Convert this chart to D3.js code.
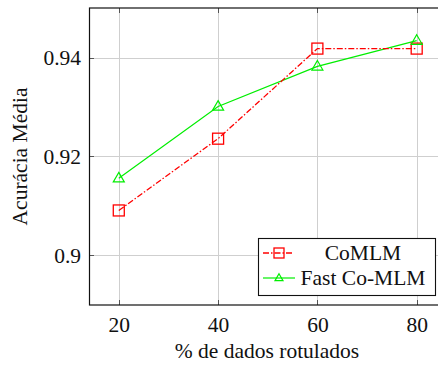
<!DOCTYPE html>
<html>
<head>
<meta charset="utf-8">
<script src="https://cdn.jsdelivr.net/npm/d3@7"></script>
<style>
  html, body { margin: 0; padding: 0; background: #fff; }
  svg { display: block; }
  svg text { font-family: "Liberation Serif", "Times New Roman", Tinos, "Nimbus Roman", "DejaVu Serif", serif !important; fill: #111; }
</style>
</head>
<body>
<div id="chart"></div>
<script>
// Percentage of labelled data on the x axis
const labelledPct = [20, 40, 60, 80];
// Mean accuracy per method
const coMLM = [0.9091, 0.9236, 0.9418, 0.9418];
const fastCoMLM = [0.9156, 0.9301, 0.9382, 0.9434];
const xTicks = [20, 40, 60, 80];
const yTicks = [0.9, 0.92, 0.94];
const seriesNames = ["CoMLM", "Fast Co-MLM"];

const W = 438, H = 367;
const svg = d3.select("#chart").append("svg").attr("width", W).attr("height", H);

const plotLeft = 89, plotTop = 8, plotBottom = 305;
const x = d3.scaleLinear().domain([14, 86]).range([plotLeft, plotLeft + (86 - 14) * (99.3 / 20)]);
const y = d3.scaleLinear().domain([0.89, 0.95]).range([plotBottom, plotTop]);
const plotRight = x(86);

const font = 21.5;

// grid
const grid = svg.append("g").attr("stroke", "#cfcfcf").attr("stroke-width", 1);
xTicks.forEach(t => grid.append("line").attr("x1", Math.round(x(t)) + 0.5).attr("x2", Math.round(x(t)) + 0.5).attr("y1", plotTop).attr("y2", plotBottom));
yTicks.forEach(t => grid.append("line").attr("y1", Math.round(y(t)) + 0.5).attr("y2", Math.round(y(t)) + 0.5).attr("x1", plotLeft).attr("x2", plotRight));

// inner tick marks
const ticks = svg.append("g").attr("stroke", "#555").attr("stroke-width", 1);
xTicks.forEach(t => {
  const px = Math.round(x(t)) + 0.5;
  ticks.append("line").attr("x1", px).attr("x2", px).attr("y1", plotBottom).attr("y2", plotBottom - 5);
  ticks.append("line").attr("x1", px).attr("x2", px).attr("y1", plotTop).attr("y2", plotTop + 5);
});
yTicks.forEach(t => {
  const py = Math.round(y(t)) + 0.5;
  ticks.append("line").attr("x1", plotLeft).attr("x2", plotLeft + 5).attr("y1", py).attr("y2", py);
});

// frame
svg.append("rect").attr("x", plotLeft + 0.5).attr("y", plotTop).attr("width", plotRight - plotLeft).attr("height", plotBottom - plotTop)
  .attr("fill", "none").attr("stroke", "#111").attr("stroke-width", 1.2);

// tick labels via d3 axes (lines hidden)
const xAxis = svg.append("g").attr("transform", `translate(0,${plotBottom})`)
  .call(d3.axisBottom(x).tickValues(xTicks).tickSize(0).tickPadding(20).tickFormat(d3.format("d")));
const yAxis = svg.append("g").attr("transform", `translate(${plotLeft},0)`)
  .call(d3.axisLeft(y).tickValues(yTicks).tickSize(0).tickPadding(8).tickFormat(d => String(+d.toFixed(2))));
[xAxis, yAxis].forEach(a => {
  a.select(".domain").remove();
  a.attr("font-family", null).attr("font-size", null);
  a.selectAll("text").attr("font-size", font).attr("fill", "#111");
});
xAxis.selectAll("text").attr("dy", "0.32em").attr("y", 20);
yAxis.selectAll("text").attr("dy", "0.34em");

// axis titles
svg.append("text").attr("x", 267).attr("y", 358).attr("text-anchor", "middle")
  .attr("font-size", font).text("% de dados rotulados");
svg.append("text").attr("transform", `translate(27,${(plotTop + plotBottom) / 2}) rotate(-90)`)
  .attr("text-anchor", "middle").attr("font-size", font).text("Acurácia Média");

// markers
function square(g, cx, cy, s, color) {
  g.append("rect").attr("x", cx - s / 2).attr("y", cy - s / 2).attr("width", s).attr("height", s)
    .attr("fill", "none").attr("stroke", color).attr("stroke-width", 1.3);
}
function triangle(g, cx, cy, s, color) {
  const h = s * 0.866;
  g.append("path").attr("d", `M${cx},${cy - h * 0.62}L${cx + s / 2},${cy + h * 0.38}L${cx - s / 2},${cy + h * 0.38}Z`)
    .attr("fill", "none").attr("stroke", color).attr("stroke-width", 1.2);
}

const red = "#ff0000", green = "#00ee00";
const line = d3.line().x((d, i) => x(labelledPct[i])).y(d => y(d));
const plot = svg.append("g");

plot.append("path").datum(fastCoMLM).attr("d", line).attr("fill", "none").attr("stroke", green).attr("stroke-width", 1.2);
plot.append("path").datum(coMLM).attr("d", line).attr("fill", "none").attr("stroke", red).attr("stroke-width", 1.3)
  .attr("stroke-dasharray", "6,2,1.5,2");
coMLM.forEach((v, i) => square(plot, x(labelledPct[i]), y(v), 11, red));
fastCoMLM.forEach((v, i) => triangle(plot, x(labelledPct[i]), y(v), 11, green));

// legend
const lg = svg.append("g");
lg.append("rect").attr("x", 258.5).attr("y", 238.5).attr("width", 177).attr("height", 57)
  .attr("fill", "#fff").attr("stroke", "#111").attr("stroke-width", 1.1);
const rows = [253, 278];
lg.append("line").attr("x1", 263).attr("x2", 293).attr("y1", rows[0]).attr("y2", rows[0])
  .attr("stroke", red).attr("stroke-width", 1.3).attr("stroke-dasharray", "6,2,1.5,2");
square(lg, 279, rows[0], 10, red);
lg.append("line").attr("x1", 263).attr("x2", 295).attr("y1", rows[1]).attr("y2", rows[1])
  .attr("stroke", green).attr("stroke-width", 1.2);
triangle(lg, 279, rows[1], 8, green);
seriesNames.forEach((n, i) => {
  lg.append("text").attr("x", 363).attr("y", rows[i]).attr("dy", "0.34em").attr("text-anchor", "middle")
    .attr("font-size", font).text(n);
});
</script>
</body>
</html>
